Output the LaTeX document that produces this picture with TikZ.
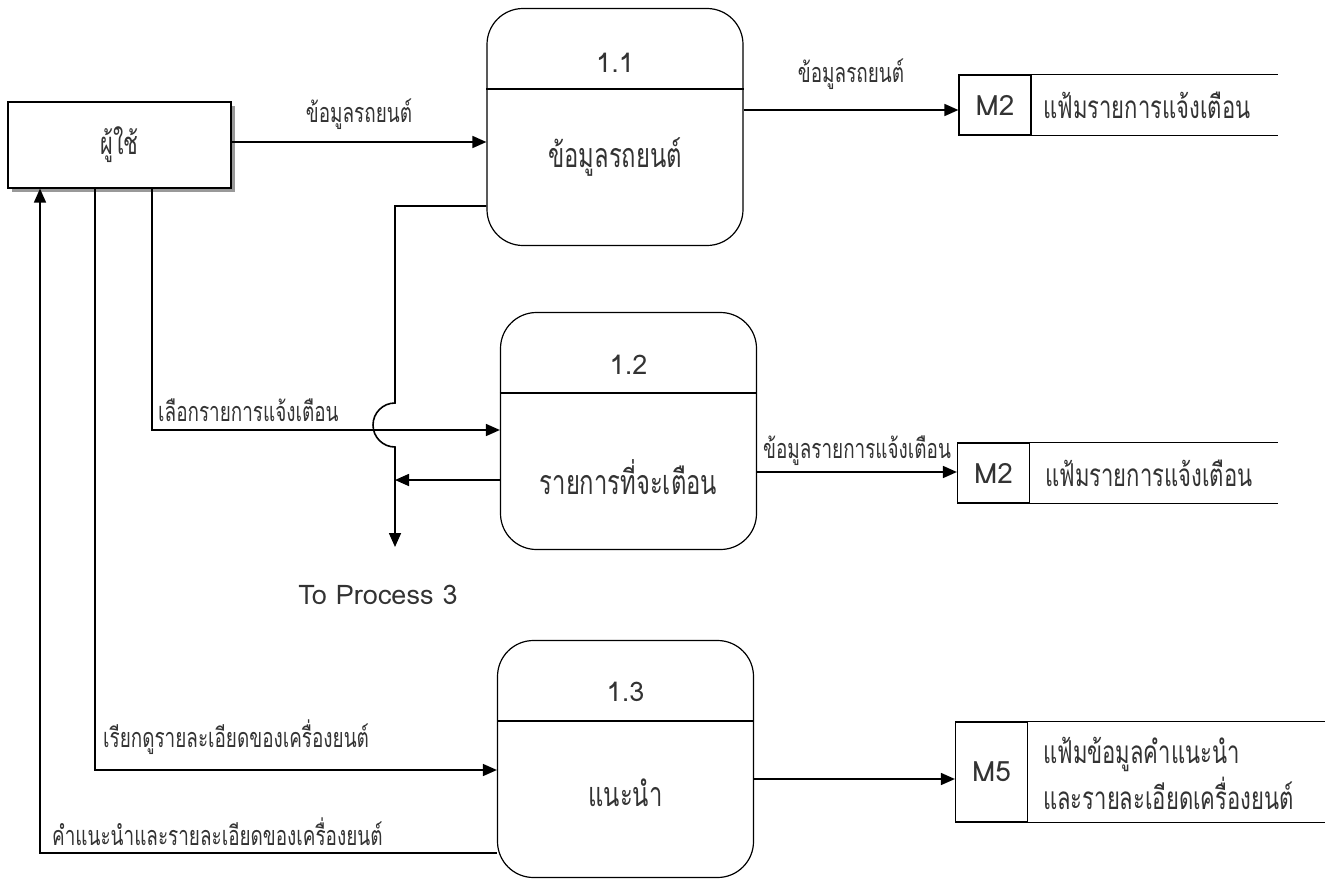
\documentclass[tikz,border=0pt]{standalone}
\usepackage{fontspec}
\setmainfont{Loma}[Script=Thai,FakeStretch=0.7]
\newfontfamily\latinfont{Loma}
\usetikzlibrary{arrows.meta,positioning,shadows}

\begin{document}
\begin{tikzpicture}[x=1pt,y=-1pt,>={Triangle[length=14pt,width=12pt]},every node/.style={inner sep=0pt,text=black!80},ext/.style={draw,line width=1.2pt,fill=white,minimum width=223pt,minimum height=86pt,drop shadow={shadow xshift=4pt,shadow yshift=-4pt,fill=black!40,opacity=1},font=\fontsize{31}{36}\selectfont},proc/.style={draw,line width=1.2pt,rounded corners=36pt,minimum width=256pt,minimum height=237pt},pnum/.style={font=\latinfont\fontsize{27}{30}\selectfont},pname/.style={font=\fontsize{34}{38}\selectfont},storeid/.style={draw,line width=1.2pt,minimum width=72pt,minimum height=60pt,font=\latinfont\fontsize{28}{32}\selectfont},storename/.style={anchor=west,font=\fontsize{31.5}{46}\selectfont,align=left},lbl/.style={font=\fontsize{27}{30}\selectfont},flow/.style={->,line width=1.6pt},plain/.style={line width=1.2pt}]
\useasboundingbox (0,0) rectangle (1330,878);
% external entity
\node[ext] (user) at (119.5,145) {ผู้ใช้};
% processes
\node[proc] (p11) at (615,127) {};
\node[pnum] (n11) at (615,63) {1.1};
\node[pname] (t11) at (615,157) {ข้อมูลรถยนต์};
\draw[plain] (p11.west |- 0,89) -- (p11.east |- 0,89);
\node[proc] (p12) at (628.5,431) {};
\node[pnum] (n12) at (628.5,365) {1.2};
\node[pname] (t12) at (628.5,477) {รายการที่จะเตือน};
\draw[plain] (p12.west |- 0,393) -- (p12.east |- 0,393);
\node[proc] (p13) at (625.5,759) {};
\node[pnum] (n13) at (625.5,692) {1.3};
\node[pname] (t13) at (625.5,793) {แนะนำ};
\draw[plain] (p13.west |- 0,721) -- (p13.east |- 0,721);
% data stores
\node[storeid] (m2a) at (995,105) {M2};
\node[storename] (s2a) at (1043,105) {แฟ้มรายการแจ้งเตือน};
\draw[plain] (m2a.north east) -- (m2a.north east -| 1278,0) (m2a.south east) -- (m2a.south east -| 1278,0);
\node[storeid] (m2b) at (993.5,473) {M2};
\node[storename] (s2b) at (1045,473) {แฟ้มรายการแจ้งเตือน};
\draw[plain] (m2b.north east) -- (m2b.north east -| 1278,0) (m2b.south east) -- (m2b.south east -| 1278,0);
\node[storeid,minimum height=100pt] (m5) at (991.5,772) {M5};
\node[storename] (s5) at (1043,773) {แฟ้มข้อมูลคำแนะนำ\\และรายละเอียดเครื่องยนต์};
\draw[plain] (m5.north east) -- (m5.north east -| 1325,0) (m5.south east) -- (m5.south east -| 1325,0);
% flows
\coordinate (hop) at (395,425);
\coordinate (tp3) at (395,547);
\draw[flow] (user.east |- 0,142) -- node[lbl,above=12pt] (f1) {ข้อมูลรถยนต์} (p11.west |- 0,142);
\draw[flow] (p11.east |- 0,110) -- node[lbl,above=20pt] (f2) {ข้อมูลรถยนต์} (m2a.west |- 0,110);
\draw[flow] (p11.west |- 0,206) -| (395,403) arc[start angle=-90,end angle=-270,radius=22] -- (tp3);
\draw[flow] (user.south -| 152,0) |- (p12.west |- 0,430);
\node[lbl,anchor=south west] (f3) at (158,422) {เลือกรายการแจ้งเตือน};
\draw[flow] (p12.west |- 0,480) -- (hop |- 0,480);
\draw[flow] (p12.east |- 0,472) -- node[lbl,above=6pt] (f4) {ข้อมูลรายการแจ้งเตือน} (m2b.west |- 0,472);
\draw[flow] (user.south -| 95,0) |- (p13.west |- 0,770);
\node[lbl,anchor=south west] (f5) at (103,755) {เรียกดูรายละเอียดของเครื่องยนต์};
\draw[flow] (p13.west |- 0,853) -| (user.south -| 40,0);
\node[lbl,anchor=south west] (f6) at (52,846) {คำแนะนำและรายละเอียดของเครื่องยนต์};
\draw[flow] (p13.east |- 0,779) -- (m5.west |- 0,779);
\node[font=\latinfont\fontsize{27}{32}\selectfont] (to3) at (378,595) {To Process 3};
\end{tikzpicture}
\end{document}
